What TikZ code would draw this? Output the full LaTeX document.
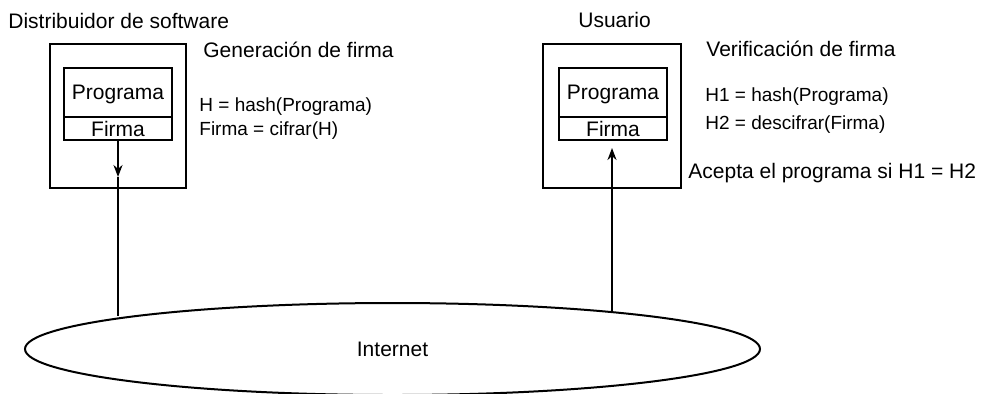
\documentclass[tikz,border=0pt]{standalone}
\usepackage{fontspec}
\setmainfont{Liberation Sans}
\usetikzlibrary{arrows.meta,shapes.geometric}

\tikzset{
	outerbox/.style={draw,line width=1pt,minimum width=68pt,minimum height=72pt,inner sep=0pt},
	part/.style={draw,line width=1pt,minimum width=54pt,inner sep=0pt,text depth=0pt,font=\fontsize{10.5pt}{12pt}\selectfont},
	lbl/.style={anchor=base west,inner sep=0pt,font=\fontsize{10.5pt}{12pt}\selectfont},
	eq/.style={anchor=base west,inner sep=0pt,font=\fontsize{9.5pt}{11pt}\selectfont},
	arr/.style={line width=1pt,-{Stealth[length=6pt,width=4.5pt]}}
}

\begin{document}
\begin{tikzpicture}[x=0.5pt,y=-0.5pt]
		\useasboundingbox (0,0) rectangle (983,393);

		% Red
		\node[draw,ellipse,line width=1pt,minimum width=367.5pt,minimum height=46pt,inner sep=0pt,
			font=\fontsize{10.5pt}{12pt}\selectfont] (net) at (392.5,349) {Internet};

		% Distribuidor
		\node[lbl] (dist) at (8,28) {Distribuidor de software};
		\node[outerbox] (caja1) at (117.5,116) {};
		\node[part,minimum height=24.5pt] (prog1) at (118,92.5) {Programa};
		\node[part,minimum height=11.5pt] (firma1) at (118,128.5) {Firma};
		\node[lbl] (gen) at (203,57) {Generación de firma};
		\node[eq] (hash1) at (199,111.5) {H = hash(Programa)};
		\node[eq] (cifr) at (199,135) {Firma = cifrar(H)};

		% Usuario
		\node[lbl] (usr) at (578,27) {Usuario};
		\node[outerbox,minimum width=69pt] (caja2) at (612,116) {};
		\node[part,minimum height=24.5pt] (prog2) at (613,92.5) {Programa};
		\node[part,minimum height=11.5pt] (firma2) at (613,128.5) {Firma};
		\node[lbl] (ver) at (706,56) {Verificación de firma};
		\node[eq] (hash2) at (705,101.5) {H1 = hash(Programa)};
		\node[eq] (desc) at (705,129) {H2 = descifrar(Firma)};
		\node[lbl] (acep) at (688,178) {Acepta el programa si H1 = H2};

		% Conexiones
		\coordinate (tip1) at (118,177);
		\coordinate (tip2) at (612,148);
		\draw[arr] (firma1.south) -- (tip1);
		\draw[line width=1pt] (tip1) -- (tip1 |- net.173.6);
		\draw[arr] (tip2 |- net.9.5) -- (tip2);

		\end{tikzpicture}
\end{document}
